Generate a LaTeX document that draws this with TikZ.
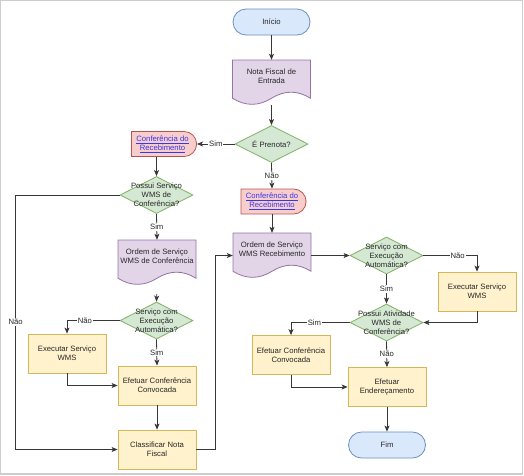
\documentclass[tikz,border=0pt]{standalone}
\usepackage{fontspec}
\setmainfont{Liberation Sans}
\usetikzlibrary{positioning, shapes.geometric, shapes.misc, arrows.meta}
\definecolor{frameColor}{RGB}{205,205,205}
\definecolor{lineColor}{RGB}{55,55,55}
\definecolor{textColor}{RGB}{40,40,40}
\definecolor{linkColor}{RGB}{55,55,235}
\definecolor{termFill}{RGB}{218,232,252}
\definecolor{termLine}{RGB}{108,142,191}
\definecolor{docFill}{RGB}{225,213,231}
\definecolor{docLine}{RGB}{150,115,166}
\definecolor{decFill}{RGB}{213,232,212}
\definecolor{decLine}{RGB}{130,179,102}
\definecolor{procFill}{RGB}{255,242,204}
\definecolor{procLine}{RGB}{214,182,86}
\definecolor{refFill}{RGB}{248,206,204}
\definecolor{refLine}{RGB}{184,84,80}
\tikzstyle{flowchart} = [x = 1pt, y = -1pt, font=\fontsize{7.7}{9}\selectfont, every node/.style={text=textColor, align=center}]
\tikzstyle{frameLine} = [draw=frameColor, line width=1.2pt]
\tikzstyle{terminalStyle} = [draw=termLine, fill=termFill, line width=0.8pt, rounded corners=13pt, minimum width=77pt, minimum height=26pt, inner sep=0pt]
\tikzstyle{processStyle} = [draw=procLine, fill=procFill, line width=0.8pt, minimum width=78pt, minimum height=39pt, inner sep=0pt]
\tikzstyle{decisionStyle} = [draw=decLine, fill=decFill, line width=0.8pt, diamond, minimum width=73pt, minimum height=37pt, inner sep=0pt]
\tikzstyle{refStyle} = [draw=refLine, fill=refFill, line width=0.8pt, rounded rectangle, rounded rectangle west arc=none, minimum width=65pt, minimum height=25pt, inner sep=0pt, text=linkColor]
\tikzstyle{docStyle} = [draw=docLine, fill=docFill, line width=0.8pt]
\tikzstyle{docBox} = [minimum width=78pt, minimum height=45pt, inner sep=0pt]
\tikzstyle{arrowStyle} = [draw=lineColor, line width=0.8pt, -{Stealth[length=6pt, width=5pt, inset=1.5pt]}]
\tikzstyle{edgeLabel} = [fill=white, inner sep=1pt]
% document shape: name, centre x, top y, text
\newcommand{\documentNode}[4]{
  \filldraw [docStyle] (#2 - 39, #3) -- (#2 + 39, #3) -- (#2 + 39, #3 + 38.25)
    .. controls (#2 + 26, #3 + 30.15) and (#2 + 13, #3 + 30.15) .. (#2, #3 + 38.25)
    .. controls (#2 - 13, #3 + 46.35) and (#2 - 26, #3 + 46.35) .. (#2 - 39, #3 + 38.25) -- cycle;
  \node [docBox] (#1) at (#2, #3 + 22.5) {};
  \node (#1Text) at (#2, #3 + 16.5) {#4};
}
% decision shape: name, x, y, text
\newcommand{\decisionNode}[4]{
  \node [decisionStyle] (#1) at (#2, #3) {};
  \node (#1Text) at (#2, #3) {#4};
}
\begin{document}
\begin{tikzpicture}[flowchart]
  \useasboundingbox (0,0) rectangle (524,475);
  \draw [frameLine] (0.7,0.7) rectangle (522.8,474);

  \node [terminalStyle] (inicio) at (271.5,22) {Início};
  \documentNode{nota}{271.5}{60}{Nota Fiscal de\\Entrada}
  \decisionNode{prenota}{271.5}{144}{É Prenota?}
  \node [refStyle] (confA) at (162.5,144) {\underline{Conferência do}\\\underline{Recebimento}};
  \node [refStyle] (confB) at (272,201.5) {\underline{Conferência do}\\\underline{Recebimento}};
  \decisionNode{possuiServico}{156.5}{195}{Possui Serviço\\WMS de\\Conferência?}
  \documentNode{ordemConf}{157}{240}{Ordem de Serviço\\WMS de Conferência}
  \decisionNode{autoLeft}{156.5}{320.5}{Serviço com\\Execução\\Automática?}
  \node [processStyle] (execLeft) at (67,353.5) {Executar Serviço\\WMS};
  \node [processStyle] (efetLeft) at (157,385.5) {Efetuar Conferência\\Convocada};
  \node [processStyle] (classificar) at (157,449.5) {Classificar Nota\\Fiscal};
  \documentNode{ordemReceb}{272}{233}{Ordem de Serviço\\WMS Recebimento}
  \decisionNode{autoRight}{386.5}{255.5}{Serviço com\\Execução\\Automática?}
  \node [processStyle] (execRight) at (477,291.5) {Executar Serviço\\WMS};
  \decisionNode{possuiAtividade}{386.5}{322.5}{Possui Atividade\\WMS de\\Conferência?}
  \node [processStyle] (efetRight) at (291,355) {Efetuar Conferência\\Convocada};
  \node [processStyle] (endereco) at (387,387) {Efetuar\\Endereçamento};
  \node [terminalStyle] (fim) at (387,445) {Fim};

  % connectors
  \draw [arrowStyle] (inicio.south) -- (nota.north);
  \draw [arrowStyle] (nota.south) -- (prenota.north);
  \draw [arrowStyle] (prenota.west) -- node [edgeLabel] (simA) {Sim} (confA.east);
  \draw [arrowStyle] (prenota.south) -- node [edgeLabel] (naoA) {Não} (confB.north);
  \draw [arrowStyle] (confA.south -| possuiServico.north) -- (possuiServico.north);
  \draw [arrowStyle] (possuiServico.south) -- node [edgeLabel] (simB) {Sim} (ordemConf.north);
  \draw [arrowStyle] (possuiServico.west) -- ++(-104,0) |- node [edgeLabel, pos=0.25] (naoB) {Não} (classificar.west);
  \draw [arrowStyle, shorten <=9pt] (ordemConf.south) -- (autoLeft.north);
  \draw [arrowStyle] (autoLeft.west) -| node [edgeLabel, pos=0.33] (naoC) {Não} (execLeft.north);
  \draw [arrowStyle] (autoLeft.south) -- node [edgeLabel] (simC) {Sim} (efetLeft.north);
  \draw [arrowStyle] (execLeft.south) |- (efetLeft.west);
  \draw [arrowStyle] (efetLeft.south) -- (classificar.north);
  \draw [arrowStyle] (classificar.east) -- ++(19,0) |- (ordemReceb.west);
  \draw [arrowStyle] (confB.south) -- (ordemReceb.north);
  \draw [arrowStyle] (ordemReceb.east) -- (autoRight.west);
  \draw [arrowStyle] (autoRight.east) -| node [edgeLabel, pos=0.32] (naoD) {Não} (execRight.north);
  \draw [arrowStyle] (autoRight.south) -- node [edgeLabel] (simD) {Sim} (possuiAtividade.north);
  \draw [arrowStyle] (execRight.south) |- (possuiAtividade.east);
  \draw [arrowStyle] (possuiAtividade.west) -| node [edgeLabel, pos=0.3] (simE) {Sim} (efetRight.north);
  \draw [arrowStyle] (possuiAtividade.south) -- node [edgeLabel] (naoE) {Não} (endereco.north);
  \draw [arrowStyle] (efetRight.south) |- (endereco.west);
  \draw [arrowStyle] (endereco.south) -- (fim.north);
\end{tikzpicture}
\end{document}
